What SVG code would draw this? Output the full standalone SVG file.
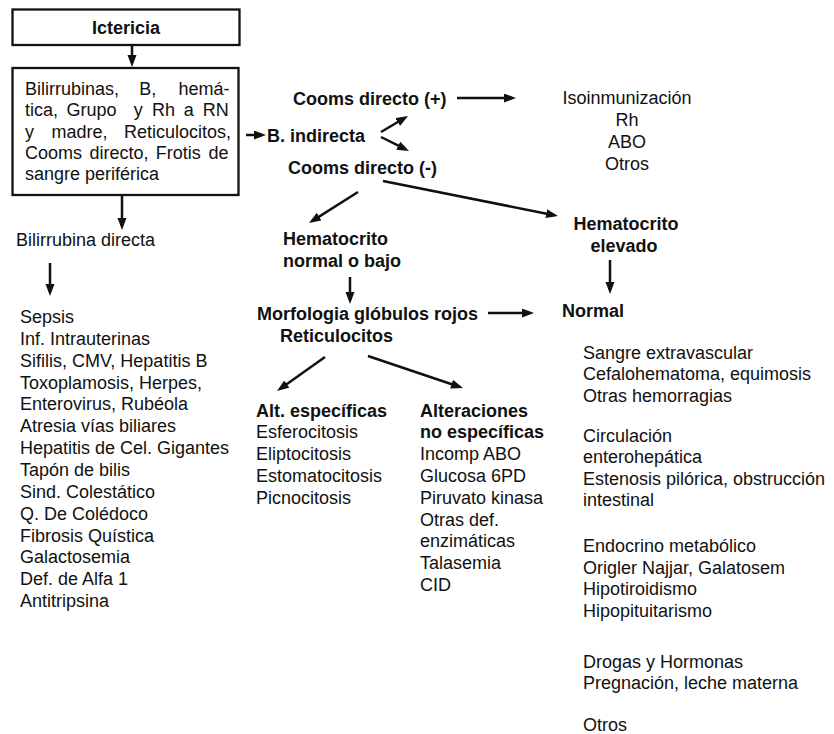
<svg xmlns="http://www.w3.org/2000/svg" width="834" height="734" viewBox="0 0 834 734">
  <defs>
    <marker id="ah" markerUnits="userSpaceOnUse" markerWidth="13" markerHeight="10" refX="8" refY="4.5" orient="auto">
      <path d="M0,0 L12,4.5 L0,9 z" fill="#111"/>
    </marker>
    <style>
      .t { font-family: "Liberation Sans", Arial, Helvetica, sans-serif; font-size: 18px; fill: #111; }
      .b { font-weight: bold; }
      .c { text-anchor: middle; }
      .box { fill: #fff; stroke: #111; stroke-width: 2.3; }
      .arr { fill: none; stroke: #111; stroke-width: 2.5; marker-end: url(#ah); }
    </style>
  </defs>

  <rect width="834" height="734" fill="#fff"/>

  <!-- connectors -->
  <g id="connectors">
    <line class="arr" x1="132" y1="45" x2="132" y2="63"/>
    <line class="arr" x1="122" y1="195" x2="122" y2="226"/>
    <line class="arr" x1="50" y1="263" x2="50" y2="292"/>
    <line class="arr" x1="246" y1="135" x2="262" y2="135"/>
    <line class="arr" x1="381" y1="132" x2="404.6" y2="118"/>
    <line class="arr" x1="381" y1="137" x2="405.4" y2="149.2"/>
    <line class="arr" x1="457" y1="98" x2="512" y2="98"/>
    <line class="arr" x1="358" y1="192" x2="312.4" y2="220.9"/>
    <line class="arr" x1="383" y1="181" x2="554.1" y2="215.2"/>
    <line class="arr" x1="610" y1="260" x2="610" y2="290"/>
    <line class="arr" x1="350" y1="277" x2="350" y2="300"/>
    <line class="arr" x1="488" y1="313" x2="530" y2="313"/>
    <line class="arr" x1="325" y1="357" x2="280.3" y2="388.7"/>
    <line class="arr" x1="368" y1="356" x2="459.2" y2="386.7"/>
  </g>

  <g id="ictericia">
    <rect class="box" x="12.5" y="9.5" width="227" height="35.5"/>
    <text class="t b c" x="126" y="33.5" font-size="19.5">Ictericia</text>
  </g>

  <g id="estudios">
    <rect class="box" x="12.5" y="68" width="226" height="127" stroke-width="2.6"/>
    <text class="t" font-size="17.5" y="94.5"><tspan x="25">Bilirrubinas,</tspan><tspan x="139.2">B,</tspan><tspan x="178.4">hemá-</tspan></text>
    <text class="t" font-size="17.5" y="116"><tspan x="25">tica,</tspan><tspan x="66.5">Grupo</tspan><tspan x="133.8">y</tspan><tspan x="151.9">Rh</tspan><tspan x="183.7">a</tspan><tspan x="202.7">RN</tspan></text>
    <text class="t" font-size="17.5" y="137.5"><tspan x="25">y</tspan><tspan x="51.6">madre,</tspan><tspan x="124">Reticulocitos,</tspan></text>
    <text class="t" font-size="17.5" y="159"><tspan x="25">Cooms</tspan><tspan x="89.4">directo,</tspan><tspan x="155.8">Frotis</tspan><tspan x="208.5">de</tspan></text>
    <text class="t" font-size="17.5" x="25" y="180">sangre periférica</text>
  </g>

  <g id="bilirrubina-directa">
    <text class="t" x="16" y="246">Bilirrubina directa</text>
  </g>

  <g id="causas-directa">
    <text class="t" x="20" y="323">Sepsis</text>
    <text class="t" x="20" y="344.9">Inf. Intrauterinas</text>
    <text class="t" x="20" y="366.7">Sifilis, CMV, Hepatitis B</text>
    <text class="t" x="20" y="388.6">Toxoplamosis, Herpes,</text>
    <text class="t" x="20" y="410.4">Enterovirus, Rubéola</text>
    <text class="t" x="20" y="432.3">Atresia vías biliares</text>
    <text class="t" x="20" y="454.1">Hepatitis de Cel. Gigantes</text>
    <text class="t" x="20" y="476">Tapón de bilis</text>
    <text class="t" x="20" y="497.8">Sind. Colestático</text>
    <text class="t" x="20" y="519.7">Q. De Colédoco</text>
    <text class="t" x="20" y="541.5">Fibrosis Quística</text>
    <text class="t" x="20" y="563.4">Galactosemia</text>
    <text class="t" x="20" y="585.2">Def. de Alfa 1</text>
    <text class="t" x="20" y="607">Antitripsina</text>
  </g>

  <g id="b-indirecta">
    <text class="t b" x="267" y="141.5">B. indirecta</text>
  </g>

  <g id="cooms-positivo">
    <text class="t b" x="293" y="104.5">Cooms directo (+)</text>
  </g>

  <g id="isoinmunizacion">
    <text class="t c" x="627" y="103.5">Isoinmunización</text>
    <text class="t c" x="627" y="125.5">Rh</text>
    <text class="t c" x="627" y="147.5">ABO</text>
    <text class="t c" x="627" y="169.5">Otros</text>
  </g>

  <g id="cooms-negativo">
    <text class="t b" x="288" y="173.5">Cooms directo (-)</text>
  </g>

  <g id="hematocrito-normal">
    <text class="t b" x="283" y="244.5">Hematocrito</text>
    <text class="t b" x="283" y="266.5">normal o bajo</text>
  </g>

  <g id="hematocrito-elevado">
    <text class="t b c" x="626" y="229.5">Hematocrito</text>
    <text class="t b c" x="624" y="251.5">elevado</text>
  </g>

  <g id="morfologia">
    <text class="t b" x="257" y="319.5">Morfologia glóbulos rojos</text>
    <text class="t b" x="280" y="341.5">Reticulocitos</text>
  </g>

  <g id="normal">
    <text class="t b" x="562" y="316.5">Normal</text>
  </g>

  <g id="alt-especificas">
    <text class="t b" x="256" y="416.5">Alt. específicas</text>
    <text class="t" x="256" y="438.3">Esferocitosis</text>
    <text class="t" x="256" y="460.1">Eliptocitosis</text>
    <text class="t" x="256" y="481.9">Estomatocitosis</text>
    <text class="t" x="256" y="503.7">Picnocitosis</text>
  </g>

  <g id="alt-no-especificas">
    <text class="t b" x="420" y="416.5">Alteraciones</text>
    <text class="t b" x="420" y="438.3">no específicas</text>
    <text class="t" x="420" y="460.1">Incomp ABO</text>
    <text class="t" x="420" y="481.9">Glucosa 6PD</text>
    <text class="t" x="420" y="503.7">Piruvato kinasa</text>
    <text class="t" x="420" y="525.5">Otras def.</text>
    <text class="t" x="420" y="547.3">enzimáticas</text>
    <text class="t" x="420" y="569.1">Talasemia</text>
    <text class="t" x="420" y="590.9">CID</text>
  </g>

  <g id="causas-normal">
    <text class="t" x="583" y="358.5">Sangre extravascular</text>
    <text class="t" x="583" y="380">Cefalohematoma, equimosis</text>
    <text class="t" x="583" y="401.5">Otras hemorragias</text>
    <text class="t" x="583" y="441.5">Circulación</text>
    <text class="t" x="583" y="463">enterohepática</text>
    <text class="t" x="583" y="484.5">Estenosis pilórica, obstrucción</text>
    <text class="t" x="583" y="506">intestinal</text>
    <text class="t" x="583" y="552">Endocrino metabólico</text>
    <text class="t" x="583" y="573.5">Origler Najjar, Galatosem</text>
    <text class="t" x="583" y="595">Hipotiroidismo</text>
    <text class="t" x="583" y="616.5">Hipopituitarismo</text>
    <text class="t" x="583" y="667.5">Drogas y Hormonas</text>
    <text class="t" x="583" y="689">Pregnación, leche materna</text>
    <text class="t" x="583" y="731">Otros</text>
  </g>
</svg>
